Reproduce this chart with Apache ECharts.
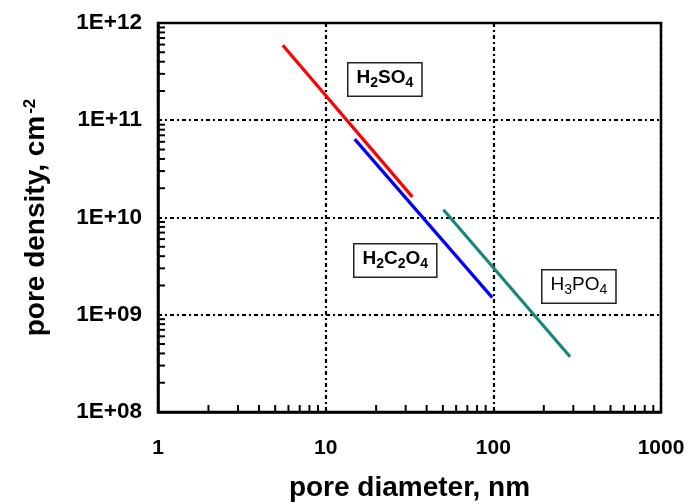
<!DOCTYPE html>
<html>
<head>
<meta charset="utf-8">
<script src="https://cdn.jsdelivr.net/npm/echarts@6/dist/echarts.min.js"></script>
<style>
html,body{margin:0;padding:0;background:#fff;}
#chart{width:688px;height:504px;}
</style>
</head>
<body>
<div id="chart"></div>
<script>
// ---- data ----
var seriesNames = ['H2SO4', 'H2C2O4', 'H3PO4'];
var h2so4 = [[5.55, 5.9e11], [32.9, 1.63e10]];
var h2c2o4 = [[14.9, 6.4e10], [98.6, 1.5e9]];
var h3po4 = [[50.4, 1.2e10], [287, 3.7e8]];
var xTickLabels = ['1', '10', '100', '1000'];
var yTickLabels = ['1E+08', '1E+09', '1E+10', '1E+11', '1E+12'];
var xMin = 1, xMax = 1000, yMin = 1e8, yMax = 1e12;

// minor tick positions (2..9 x each decade)
function minors(lo, hi) {
  var out = [];
  for (var d = lo; d < hi; d *= 10) {
    for (var k = 2; k <= 9; k++) out.push(d * k);
  }
  return out;
}
var xMinor = minors(xMin, xMax);
var yMinor = minors(yMin, yMax);

var FONT = '"Liberation Sans", Arial, sans-serif';
var chart = echarts.init(document.getElementById('chart'), null, {renderer: 'canvas'});

var gridSplit = {show: true, lineStyle: {color: '#000', width: 2.2, type: [4, 3, 2, 3]}};

function boxText(text, left, top, bold) {
  var w = bold ? 'bold' : 'normal';
  return {
    type: 'text', left: left, top: top, z: 50,
    style: {
      text: text,
      fill: '#000',
      backgroundColor: '#fff',
      borderColor: '#222',
      borderWidth: 1.5,
      padding: [5, 8, 5, 8],
      rich: {
        m: {fontSize: 19, fontWeight: w, fontFamily: FONT, color: '#000', verticalAlign: 'top', lineHeight: 22},
        s: {fontSize: 14, fontWeight: w, fontFamily: FONT, color: '#000', verticalAlign: 'top', lineHeight: 22, padding: [8, 0, 0, 0]}
      }
    }
  };
}

var option = {
  animation: false,
  backgroundColor: '#fff',
  grid: {left: 158, right: 27, top: 23, bottom: 92, containLabel: false, outerBoundsMode: 'none', show: true, borderColor: '#000', borderWidth: 2.5, backgroundColor: 'transparent', z: 10},
  xAxis: {
    type: 'log', logBase: 10, min: xMin, max: xMax,
    name: 'pore diameter, nm', nameLocation: 'middle', nameGap: 62,
    nameTextStyle: {fontSize: 28, fontWeight: 'bold', fontFamily: FONT, color: '#000'},
    axisLine: {show: true, lineStyle: {color: '#000', width: 2.5}},
    axisTick: {show: false},
    axisLabel: {
      margin: 26, fontSize: 21, fontWeight: 'bold', fontFamily: FONT, color: '#000',
      formatter: function (v) { var i = Math.round(Math.log10(v)); return xTickLabels[i] || ''; }
    },
    splitLine: gridSplit
  },
  yAxis: {
    type: 'log', logBase: 10, min: yMin, max: yMax,
    name: '{a|pore density, cm}{b|-2}', nameLocation: 'middle', nameGap: 106, nameRotate: 90,
    nameTextStyle: {
      fontSize: 28, fontWeight: 'bold', fontFamily: FONT, color: '#000',
      rich: {
        a: {fontSize: 28, fontWeight: 'bold', fontFamily: FONT, color: '#000', verticalAlign: 'top', lineHeight: 30},
        b: {fontSize: 17, fontWeight: 'bold', fontFamily: FONT, color: '#000', verticalAlign: 'top', lineHeight: 30, padding: [0, 0, 0, 2]}
      }
    },
    axisLine: {show: true, lineStyle: {color: '#000', width: 2.5}},
    axisTick: {show: false},
    axisLabel: {
      margin: 16, fontSize: 22.5, fontWeight: 'bold', fontFamily: FONT, color: '#000',
      formatter: function (v) { var i = Math.round(Math.log10(v)) - 8; return yTickLabels[i] || ''; }
    },
    splitLine: gridSplit
  },
  series: [
    {name: seriesNames[0], type: 'line', data: h2so4, showSymbol: false, symbol: 'none', lineStyle: {color: '#ff0000', width: 3.2}, z: 20},
    {name: seriesNames[1], type: 'line', data: h2c2o4, showSymbol: false, symbol: 'none', lineStyle: {color: '#0000ff', width: 3.2}, z: 20},
    {name: seriesNames[2], type: 'line', data: h3po4, showSymbol: false, symbol: 'none', lineStyle: {color: '#17877e', width: 3.2}, z: 20},
    {
      type: 'custom', clip: false, silent: true, z: 30,
      data: xMinor.map(function (v) { return [v, yMin]; }),
      renderItem: function (params, api) {
        var p = api.coord([api.value(0), api.value(1)]);
        return {type: 'line', shape: {x1: p[0], y1: p[1], x2: p[0], y2: p[1] - 7}, style: {stroke: '#000', lineWidth: 2}};
      }
    },
    {
      type: 'custom', clip: false, silent: true, z: 30,
      data: yMinor.map(function (v) { return [xMin, v]; }),
      renderItem: function (params, api) {
        var p = api.coord([api.value(0), api.value(1)]);
        return {type: 'line', shape: {x1: p[0], y1: p[1], x2: p[0] + 7, y2: p[1]}, style: {stroke: '#000', lineWidth: 2}};
      }
    }
  ],
  graphic: [
    boxText('{m|H}{s|2}{m|SO}{s|4}', 347, 62, true),
    boxText('{m|H}{s|2}{m|C}{s|2}{m|O}{s|4}', 353, 243, true),
    boxText('{m|H}{s|3}{m|PO}{s|4}', 541, 269, false)
  ]
};
chart.setOption(option);
</script>
</body>
</html>
